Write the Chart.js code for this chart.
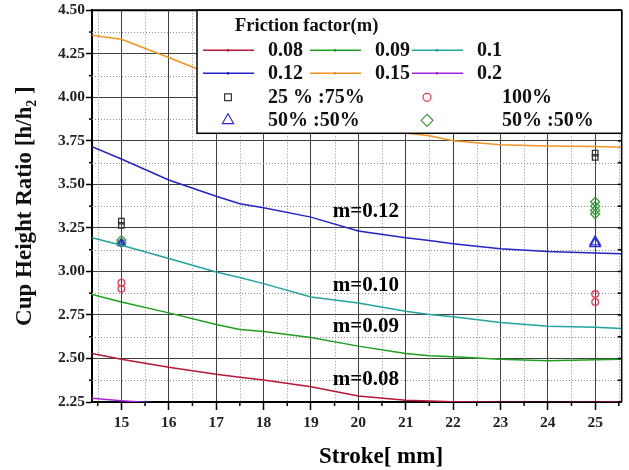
<!DOCTYPE html>
<html>
<head>
<meta charset="utf-8">
<script src="https://cdn.jsdelivr.net/npm/chart.js@4"></script>
<style>
  body { margin: 0; background: #fff; }
  canvas { display: block; }
</style>
</head>
<body>
<canvas id="strokeChart" width="629" height="470"></canvas>
<script>
// stroke positions (mm) where the curves were read
const strokes = [14.38, 15, 16, 17, 17.5, 18, 19, 20, 21, 21.5, 22, 23, 24, 25, 25.56];

// cup height ratio per friction factor
const m008 = [2.529, 2.496, 2.449, 2.409, 2.392, 2.376, 2.338, 2.285, 2.26, 2.256, 2.252, 2.249, 2.247, 2.249, 2.251];
const m009 = [2.867, 2.825, 2.762, 2.695, 2.666, 2.655, 2.621, 2.571, 2.529, 2.515, 2.51, 2.496, 2.487, 2.493, 2.496];
const m010 = [3.194, 3.15, 3.074, 2.997, 2.965, 2.93, 2.853, 2.819, 2.771, 2.752, 2.739, 2.707, 2.685, 2.679, 2.672];
const m012 = [3.717, 3.646, 3.525, 3.432, 3.389, 3.366, 3.312, 3.232, 3.194, 3.178, 3.159, 3.131, 3.115, 3.106, 3.102];
const m015 = [4.357, 4.334, 4.229, 4.12, 4.07, 4.01, 3.92, 3.85, 3.795, 3.78, 3.751, 3.728, 3.721, 3.717, 3.713];
const m020 = [2.271, 2.257, 2.24, null, null, null, null, null, null, null, null, null, null, null, null];

// experiment points
const sqX = [15, 15, 25, 25];
const sqY = [3.289, 3.265, 3.68, 3.655];
const circX = [15, 15, 25, 25];
const circY = [2.935, 2.9, 2.87, 2.825];
const triX = [15, 15, 25, 25];
const triY = [3.165, 3.16, 3.17, 3.16];
const diaX = [15, 15, 25, 25, 25, 25];
const diaY = [3.18, 3.165, 3.40, 3.375, 3.35, 3.33];

// axes
const xTicks = [15, 16, 17, 18, 19, 20, 21, 22, 23, 24, 25];
const xMinor = [14.5, 15.5, 16.5, 17.5, 18.5, 19.5, 20.5, 21.5, 22.5, 23.5, 24.5, 25.5];
const yTicks = [2.25, 2.5, 2.75, 3.0, 3.25, 3.5, 3.75, 4.0, 4.25, 4.5];
const yMinor = [2.375, 2.625, 2.875, 3.125, 3.375, 3.625, 3.875, 4.125, 4.375];

// curve labels inside the plot
const curveNotes = ['m=0.12', 'm=0.10', 'm=0.09', 'm=0.08'];
const noteX = [19.46, 19.46, 19.46, 19.46];
const noteY = [3.341, 2.92, 2.681, 2.38];

const serif = "'Liberation Serif', 'DejaVu Serif', serif";

const lines = [
  { label: '0.08', values: m008, color: '#b8163a' },
  { label: '0.09', values: m009, color: '#1e9e1e' },
  { label: '0.1', values: m010, color: '#22a3a0' },
  { label: '0.12', values: m012, color: '#2424c4' },
  { label: '0.15', values: m015, color: '#f29420' },
  { label: '0.2', values: m020, color: '#a624dc' }
];

const marks = [
  { label: '25 % :75%', xs: sqX, ys: sqY, style: 'rect', r: 3.9, color: '#333333' },
  { label: '100%', xs: circX, ys: circY, style: 'circle', r: 3.3, color: '#e8344e' },
  { label: '50% :50%', xs: triX, ys: triY, style: 'triangle', r: ctx => ctx.raw && ctx.raw.x < 20 ? 4 : 6, color: '#2a2ae0' },
  { label: '50% :50%', xs: diaX, ys: diaY, style: 'rectRot', r: 4.5, color: '#3c9a3c' }
];

const datasets = [];
lines.forEach(s => {
  datasets.push({
    label: s.label,
    data: strokes.map((x, i) => ({ x: x, y: s.values[i] })),
    showLine: true,
    borderColor: s.color,
    borderWidth: 1.5,
    pointRadius: 0,
    tension: 0,
    spanGaps: false
  });
});
marks.forEach(s => {
  datasets.push({
    label: s.label,
    data: s.xs.map((x, i) => ({ x: x, y: s.ys[i] })),
    showLine: false,
    pointStyle: s.style,
    pointRadius: s.r,
    pointBorderWidth: 1.3,
    pointBorderColor: s.color,
    pointBackgroundColor: 'rgba(255,255,255,0)'
  });
});

function seg(ctx, x1, y1, x2, y2) {
  ctx.beginPath();
  ctx.moveTo(x1, y1);
  ctx.lineTo(x2, y2);
  ctx.stroke();
}

function marker(ctx, style, x, y, r, color) {
  ctx.save();
  ctx.strokeStyle = color;
  ctx.lineWidth = 1.2;
  ctx.beginPath();
  if (style === 'rect') {
    ctx.rect(x - r * 0.7, y - r * 0.7, r * 1.4, r * 1.4);
  } else if (style === 'circle') {
    ctx.arc(x, y, r, 0, Math.PI * 2);
  } else if (style === 'triangle') {
    ctx.moveTo(x, y - r);
    ctx.lineTo(x + r * 0.866, y + r * 0.5);
    ctx.lineTo(x - r * 0.866, y + r * 0.5);
    ctx.closePath();
  } else {
    ctx.moveTo(x - r, y);
    ctx.lineTo(x, y - r);
    ctx.lineTo(x + r, y);
    ctx.lineTo(x, y + r);
    ctx.closePath();
  }
  ctx.stroke();
  ctx.restore();
}

const extras = {
  id: 'extras',
  beforeDatasetsDraw(chart) {
    const { ctx, chartArea: a, scales: { x, y } } = chart;
    ctx.save();
    ctx.strokeStyle = '#8c8c8c';
    ctx.lineWidth = 1;
    ctx.setLineDash([1, 2]);
    xMinor.forEach(v => {
      const px = Math.round(x.getPixelForValue(v)) + 0.5;
      seg(ctx, px, a.top, px, a.bottom);
    });
    yMinor.forEach(v => {
      const py = Math.round(y.getPixelForValue(v)) + 0.5;
      seg(ctx, a.left, py, a.right, py);
    });
    ctx.restore();
  },
  afterDatasetsDraw(chart) {
    const { ctx, scales: { x, y } } = chart;
    ctx.save();
    ctx.fillStyle = '#000';
    ctx.font = 'bold 21px ' + serif;
    ctx.textAlign = 'left';
    ctx.textBaseline = 'middle';
    curveNotes.forEach((t, i) => {
      ctx.fillText(t, x.getPixelForValue(noteX[i]), y.getPixelForValue(noteY[i]));
    });
    ctx.restore();
  },
  afterDraw(chart) {
    const { ctx, chartArea: a, scales: { x, y } } = chart;
    ctx.save();
    // minor ticks and frame
    ctx.strokeStyle = '#000';
    ctx.lineWidth = 1.5;
    xMinor.forEach(v => {
      const px = x.getPixelForValue(v);
      seg(ctx, px, a.bottom, px, a.bottom + 4);
    });
    yMinor.forEach(v => {
      const py = y.getPixelForValue(v);
      seg(ctx, a.left - 3, py, a.left, py);
    });
    yMinor.concat(yTicks).forEach(v => {
      const py = y.getPixelForValue(v);
      seg(ctx, a.right - 4, py, a.right, py);
    });
    ctx.lineWidth = 2;
    seg(ctx, a.left, a.top, a.right, a.top);
    ctx.lineWidth = 1.5;
    seg(ctx, a.right, a.top, a.right, a.bottom);

    // x axis title
    ctx.fillStyle = '#000';
    ctx.font = 'bold 23px ' + serif;
    ctx.textAlign = 'center';
    ctx.textBaseline = 'middle';
    ctx.fillText('Stroke[ mm]', 381, 457);

    // legend box
    const bx = a.left + 105, by = a.top, bw = a.right - bx, bh = 123;
    ctx.fillStyle = '#fff';
    ctx.fillRect(bx, by, bw, bh);
    ctx.lineWidth = 1.5;
    ctx.strokeRect(bx, by, bw, bh);

    ctx.fillStyle = '#111';
    ctx.textAlign = 'left';
    ctx.font = 'bold 18.5px ' + serif;
    ctx.fillText('Friction factor(m)', bx + 38, by + 16);

    ctx.font = 'bold 20px ' + serif;
    const colLine = [bx + 6, bx + 113, bx + 215];
    const colText = [bx + 71, bx + 178, bx + 280];
    lines.forEach((s, i) => {
      const c = i % 3, rowY = by + 40 + Math.floor(i / 3) * 23;
      ctx.strokeStyle = s.color;
      ctx.lineWidth = 1.5;
      seg(ctx, colLine[c], rowY, colLine[c] + 51, rowY);
      ctx.fillStyle = s.color;
      ctx.beginPath();
      ctx.arc(colLine[c] + 25, rowY, 1.4, 0, Math.PI * 2);
      ctx.fill();
      ctx.fillStyle = '#111';
      ctx.fillText(s.label, colText[c], rowY + 1);
    });

    const colMark = [bx + 31, bx + 230];
    const colMarkText = [bx + 71, bx + 305];
    const markSize = [4.8, 4, 6.5, 6];
    marks.forEach((s, i) => {
      const c = i % 2, rowY = by + 87 + Math.floor(i / 2) * 23;
      marker(ctx, s.style, colMark[c], rowY, markSize[i], s.color);
      ctx.fillStyle = '#111';
      ctx.fillText(s.label, colMarkText[c], rowY + 1);
    });
    ctx.restore();
  }
};

new Chart(document.getElementById('strokeChart'), {
  type: 'scatter',
  data: { datasets: datasets },
  options: {
    responsive: false,
    animation: false,
    layout: { padding: { top: 9, right: 6, left: 0, bottom: 0 } },
    plugins: {
      legend: { display: false },
      tooltip: { enabled: false }
    },
    scales: {
      x: {
        type: 'linear',
        min: 14.38,
        max: 25.56,
        afterBuildTicks: s => { s.ticks = xTicks.map(v => ({ value: v })); },
        afterFit: s => { s.height = 68; },
        grid: { color: '#404040', lineWidth: 1, tickLength: 8, tickColor: '#000', tickWidth: 1.5 },
        border: { color: '#000', width: 2 },
        ticks: {
          font: { family: serif, size: 15.5, weight: 'bold' },
          color: '#222',
          padding: 4,
          maxRotation: 0
        }
      },
      y: {
        min: 2.25,
        max: 4.5,
        afterBuildTicks: s => { s.ticks = yTicks.map(v => ({ value: v })); },
        afterFit: s => { s.width = 92; },
        grid: { color: '#404040', lineWidth: 1, tickLength: 6, tickColor: '#000', tickWidth: 1.5 },
        border: { color: '#000', width: 2 },
        ticks: {
          font: { family: serif, size: 15.5, weight: 'bold' },
          color: '#222',
          padding: 1,
          callback: v => v.toFixed(2)
        },
        title: {
          display: true,
          text: 'Cup Height Ratio [h/h\u2082 ]',
          font: { family: serif, size: 23, weight: 'bold' },
          color: '#111',
          padding: { top: 11, bottom: 0 }
        }
      }
    }
  },
  plugins: [extras]
});
</script>
</body>
</html>
